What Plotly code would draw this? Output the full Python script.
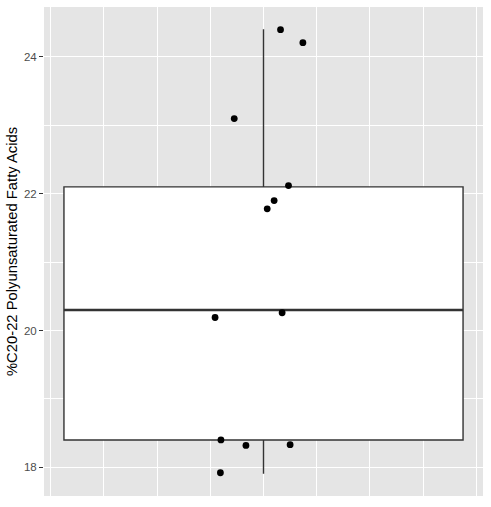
import plotly.graph_objects as go

# Box statistics
box_q1 = [18.40]
box_median = [20.30]
box_q3 = [22.10]
box_lower = [17.905]
box_upper = [24.405]
box_x = [0.0]
box_width = 0.75

# Jittered points (x jitter offset, y value)
pt_x = [0.032, 0.074, -0.055, 0.047, 0.020, 0.007, -0.091, 0.035, -0.080, -0.033, 0.050, -0.081]
pt_y = [24.40, 24.21, 23.10, 22.12, 21.90, 21.78, 20.19, 20.26, 18.40, 18.32, 18.33, 17.92]

y_ticks = [18, 20, 22, 24]
y_title = "%C20-22 Polyunsaturated Fatty Acids"

fig = go.Figure()
fig.add_trace(go.Box(
    x=box_x, q1=box_q1, median=box_median, q3=box_q3,
    lowerfence=box_lower, upperfence=box_upper,
    width=box_width, whiskerwidth=0, boxpoints=False,
    fillcolor="white", line=dict(color="#333333", width=1.4),
    hoverinfo="skip", showlegend=False,
))
# thicker median line (ggplot fatten)
fig.add_trace(go.Scatter(
    x=[box_x[0] - box_width / 2, box_x[0] + box_width / 2],
    y=[box_median[0], box_median[0]],
    mode="lines", line=dict(color="#333333", width=2.6),
    showlegend=False, hoverinfo="skip",
))
fig.add_trace(go.Scatter(
    x=pt_x, y=pt_y, mode="markers",
    marker=dict(color="black", size=6.8),
    showlegend=False,
))

grid = "white"
fig.update_layout(
    width=491, height=507,
    margin=dict(l=44, r=8, t=7, b=11),
    paper_bgcolor="white", plot_bgcolor="#E5E5E5",
    font=dict(family="Liberation Sans, Arial, sans-serif"),
    showlegend=False,
)
fig.update_xaxes(
    range=[-0.4125, 0.4125], showticklabels=False, ticks="",
    tickvals=[-0.4, -0.2, 0, 0.2, 0.4],
    showgrid=True, gridcolor=grid, gridwidth=1.4,
    minor=dict(tickvals=[-0.3, -0.1, 0.1, 0.3], showgrid=True, gridcolor=grid, gridwidth=0.7),
    zeroline=False, showline=False,
)
fig.update_yaxes(
    range=[17.58, 24.731], tickvals=y_ticks,
    ticks="outside", ticklen=4, tickwidth=1.1, tickcolor="#333333",
    tickfont=dict(size=11.5, color="#4D4D4D"),
    showgrid=True, gridcolor=grid, gridwidth=1.4,
    minor=dict(tickvals=[19, 21, 23], showgrid=True, gridcolor=grid, gridwidth=0.7, ticks=""),
    zeroline=False, showline=False,
    title=dict(text=y_title, font=dict(size=14.8, color="black"), standoff=2),
)

fig.write_html(
    "out.html",
    config={"displayModeBar": False},
    post_script="document.body.style.margin='0';document.body.style.overflow='hidden';",
)
